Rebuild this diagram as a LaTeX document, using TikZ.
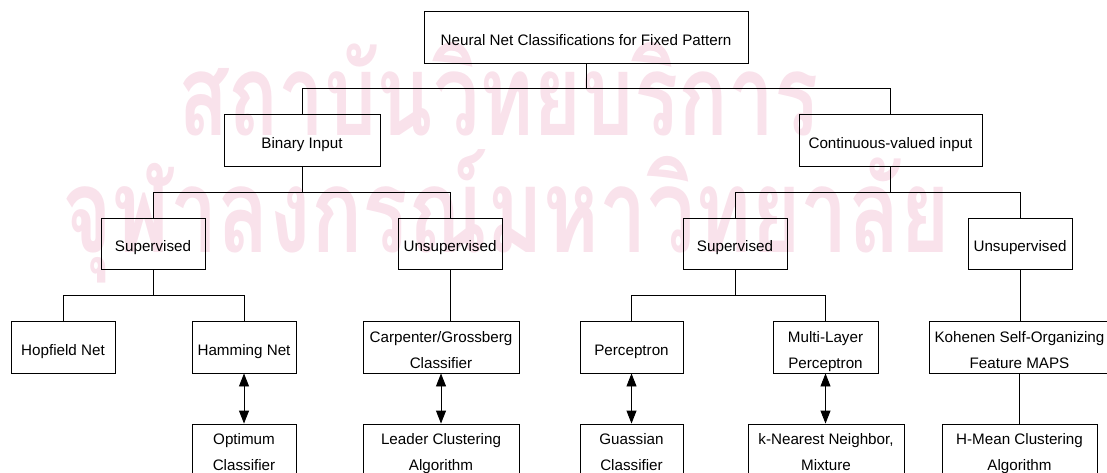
\documentclass[tikz,border=0pt]{standalone}
\usepackage{fontspec}
\setmainfont{Liberation Sans}
\newfontfamily\thaifont[Script=Thai]{Loma}
\usetikzlibrary{arrows.meta}
\definecolor{wm}{RGB}{249,226,235}
\begin{document}
\begin{tikzpicture}[x=1pt,y=-1pt,
  box/.style={draw, line width=0.9pt, inner sep=0pt, minimum height=52pt, align=center,
              font=\fontsize{15.2}{26}\selectfont, text height=19.5pt, text depth=3pt},
  boxtwo/.style={box, text height=45.8pt, text depth=3pt},
  boxlow/.style={box, text height=44pt, text depth=3pt},
  conn/.style={line width=0.9pt},
  dbl/.style={line width=0.9pt, {Triangle[length=13pt,width=10pt]}-{Triangle[length=13pt,width=10pt]}}]
\useasboundingbox (0,0) rectangle (1107,473);
\clip (0,0) rectangle (1107,473);
% watermark
\node[anchor=base west, inner sep=0pt, text=wm] (wm1) at (178,136)
  {\scalebox{1}[1.38]{\resizebox{640pt}{!}{\thaifont\bfseries สถาบันวิทยบริการ}}};
\node[anchor=base west, inner sep=0pt, text=wm] (wm2) at (62,252)
  {\scalebox{1}[1.38]{\resizebox{888pt}{!}{\thaifont\bfseries จุฬาลงกรณ์มหาวิทยาลัย}}};
% level 1
\node[box, minimum width=324pt] (top) at (586,37) {Neural Net Classifications for Fixed Pattern};
% level 2
\node[box, minimum width=156pt] (bin) at (302,140) {Binary Input};
\node[box, minimum width=183pt] (cont) at (890.5,140) {Continuous-valued input};
% level 3
\node[box, minimum width=104pt, minimum height=51pt] (sup1) at (153,243.5) {Supervised};
\node[box, minimum width=104pt, minimum height=51pt] (uns1) at (450,243.5) {Unsupervised};
\node[box, minimum width=104pt, minimum height=51pt] (sup2) at (735,243.5) {Supervised};
\node[box, minimum width=104pt, minimum height=51pt] (uns2) at (1020,243.5) {Unsupervised};
% level 4
\node[box, minimum width=104pt] (hop) at (63,347) {Hopfield Net};
\node[box, minimum width=104pt] (ham) at (244,347) {Hamming Net};
\node[boxtwo, minimum width=156pt] (carp) at (441,347) {Carpenter/Grossberg\\Classifier};
\node[box, minimum width=103pt] (perc) at (631.5,347) {Perceptron};
\node[boxtwo, minimum width=105pt] (mlp) at (825.5,347) {Multi-Layer\\Perceptron};
\node[boxtwo, minimum width=181pt] (koh) at (1019.5,347) {Kohenen Self-Organizing\\Feature MAPS};
% level 5
\node[boxlow, minimum width=104pt] (opt) at (244,450) {Optimum\\Classifier};
\node[boxlow, minimum width=156pt] (lead) at (441,450) {Leader Clustering\\Algorithm};
\node[boxlow, minimum width=103pt] (gua) at (631.5,450) {Guassian\\Classifier};
\node[boxlow, minimum width=156pt] (knn) at (826,450) {k-Nearest Neighbor,\\Mixture};
\node[boxlow, minimum width=155pt] (hmean) at (1019.5,450) {H-Mean Clustering\\Algorithm};
% connectors
\draw[conn] (top.south) -- ++(0,25.5) -| (bin.north);
\draw[conn] (top.south) -- ++(0,25.5) -| (cont.north);
\draw[conn] (bin.south) -- ++(0,26) -| (sup1.north);
\draw[conn] (bin.south) -- ++(0,26) -| (uns1.north);
\draw[conn] (cont.south) -- ++(0,26) -| (sup2.north);
\draw[conn] (cont.south) -- ++(0,26) -| (uns2.north);
\draw[conn] (sup1.south) -- ++(0,26) -| (hop.north);
\draw[conn] (sup1.south) -- ++(0,26) -| (ham.north);
\draw[conn] (sup2.south) -- ++(0,26) -| (perc.north);
\draw[conn] (sup2.south) -- ++(0,26) -| (mlp.north);
\draw[conn] (uns1.south) -- (uns1.south |- carp.north);
\draw[conn] (uns2.south) -- (uns2.south |- koh.north);
\draw[conn] (koh.south) -- (hmean.north);
\draw[dbl] (ham.south) -- (opt.north);
\draw[dbl] (carp.south) -- (lead.north);
\draw[dbl] (perc.south) -- (gua.north);
\draw[dbl] (mlp.south) -- (mlp.south |- knn.north);
\end{tikzpicture}
\end{document}
